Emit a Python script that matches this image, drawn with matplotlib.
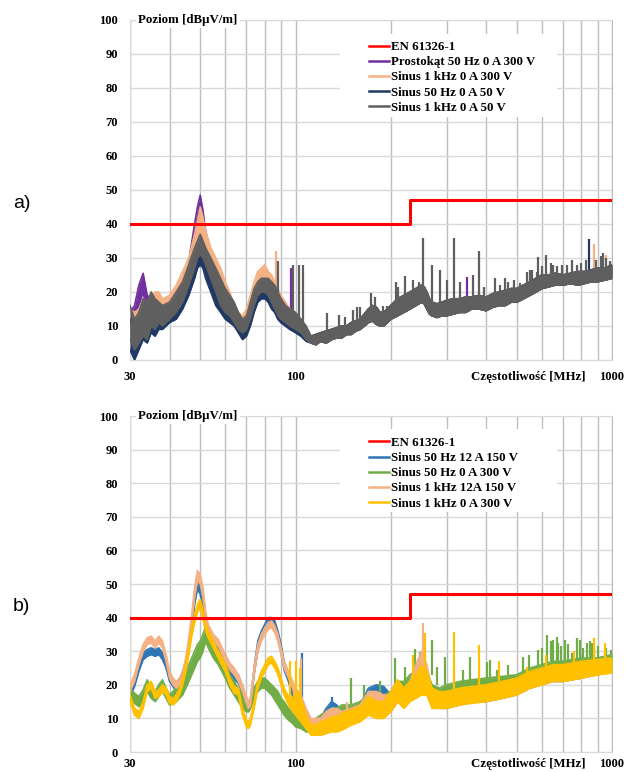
import matplotlib
matplotlib.use("Agg")
import matplotlib.pyplot as plt
from matplotlib.lines import Line2D
from matplotlib.patches import Rectangle
from matplotlib.ticker import FixedLocator, NullFormatter

plt.rcParams['font.family'] = ['Liberation Serif', 'DejaVu Serif']

# granica wg normy EN 61326-1
limit_f = [30, 230, 230, 1000]
limit_v = [40, 40, 47, 47]

# ---- a) zakres 30-108 MHz (osobno dla kazdego przebiegu) ----
a_freq_low = [30, 31, 32, 33, 34, 35, 36, 37, 38, 40, 42, 44, 46, 48, 49, 50, 51, 52, 54, 56, 58,
              60, 62, 64, 66, 68, 70, 72, 74, 76, 78, 80, 82, 84, 86, 88, 90, 93, 96, 100, 104, 108]

a_prost_lo = [6, 8, 16, 20, 14, 11, 10, 11, 10, 12, 13, 16, 22, 30, 38, 43, 38, 32, 25, 20, 16,
              14, 12, 11, 10, 9, 9, 11, 15, 18, 19, 19, 18, 16, 14, 12, 11, 10, 9, 8.5, 7.5, 6]
a_prost_hi = [14, 16, 22, 25.5, 19, 18, 17, 16, 15, 16, 18, 22, 29, 40, 45, 48.5, 44, 38, 31, 26, 22,
              20, 18, 16, 13, 12, 13, 16, 20, 22, 23, 23, 23, 22, 20, 19, 17, 15, 14, 13, 11, 9.5]

a_s1k300_lo = [9, 8, 10, 11, 10, 12, 13, 13, 12, 14, 16, 20, 25, 31, 35, 38, 36, 32, 28, 24, 20,
               17, 14, 11, 10, 10, 11, 14, 18, 21, 23, 23, 21, 19, 16, 14, 13, 11, 10, 9, 8, 6]
a_s1k300_hi = [15, 14, 15, 18, 17, 19, 20, 20, 18, 19, 22, 26, 30, 37, 41, 45, 42, 38, 33, 30, 27,
               23, 20, 16, 14, 13, 15, 19, 23, 26, 27, 28, 26, 25, 23, 21, 19, 17, 15, 14, 12, 10]

a_s50_50_lo = [3, 0, 3, 6, 5, 8, 7, 9, 9, 11, 12, 15, 19, 24, 27, 28, 27, 24, 20, 16, 14,
               12, 11, 10, 8, 6, 7, 10, 14, 17, 18, 18, 17, 15, 14, 12, 11, 10, 9, 8, 7, 5.5]
a_s50_50_hi = [12, 8, 11, 14, 13, 16, 15, 15, 14, 15, 18, 21, 25, 30, 32, 34, 32, 30, 27, 23, 20,
               18, 16, 14, 12, 10, 11, 15, 19, 21, 22, 22, 22, 21, 20, 18, 16, 14, 13, 12, 10, 8]

a_s1k50_lo = [6, 3, 5, 7, 6, 10, 9, 11, 10, 12, 14, 17, 22, 27, 30, 31, 30, 28, 24, 20, 16,
              14, 13, 11, 9, 8, 9, 12, 16, 19, 20, 20, 19, 17, 15, 13, 12, 11, 10, 9, 8, 6]
a_s1k50_hi = [16, 12, 14, 18, 17, 20, 18, 17, 16, 17, 20, 23, 28, 33, 35, 37, 35, 33, 30, 27, 24,
              21, 19, 17, 14, 12, 13, 17, 21, 23, 24, 24, 24, 23, 22, 20, 18, 16, 15, 14, 12, 10]

# a) powyzej 110 MHz przebiegi praktycznie sie pokrywaja
a_freq_hf = [112, 116, 120, 125, 130, 135, 140, 145, 150, 155,
             160, 165, 170, 175, 180, 185, 190, 195, 200, 205,
             210, 215, 220, 225, 230, 240, 250, 255, 260, 265,
             270, 280, 290, 300, 315, 330, 345, 360, 380, 400,
             420, 440, 460, 480, 500, 525, 550, 575, 600, 630,
             660, 700, 740, 780, 820, 860, 900, 950, 1000]
a_hf_lo = [5, 4.5, 5.5, 5, 6, 6.5, 6.5, 7.5, 7.5, 8.5,
           9, 10, 11, 11.5, 10.5, 10, 10, 11, 12, 12.5,
           13, 13.5, 14, 14.5, 15, 16, 17, 16.5, 15, 13.5,
           13, 12.5, 13, 13, 13.5, 14, 14, 15, 15, 14.5,
           15.5, 16, 16, 17, 17, 18, 19, 20, 21, 21.5,
           22, 22, 22.5, 22, 22.5, 23, 23, 23.5, 24]
a_hf_hi = [7, 7.5, 8, 8.5, 9, 9.5, 10, 10, 11, 11.5,
           12, 13.5, 15, 16, 15.5, 14, 14, 15, 16, 17,
           18, 18.5, 19, 19.5, 20, 21, 22, 21.5, 20, 18,
           17, 16.5, 17, 17.5, 18, 18, 18.5, 18.5, 19, 18.5,
           19.5, 20, 20.5, 21, 21, 22, 23, 24, 25, 25,
           25.5, 25, 25.5, 26, 26, 26.5, 27, 27, 28]

# a) piki waskopasmowe: czestotliwosc, podstawa, wierzcholek
a_gray_spk_f = [88, 98, 102.5, 105.5, 126, 137, 143, 152, 156, 159.5,
                173, 178, 189, 194, 207.5, 211, 222, 235, 245, 253,
                270, 285.5, 301, 316, 332, 364, 381, 395, 427, 443,
                459, 470, 490, 512, 537, 550, 560, 578, 585, 600,
                619, 640, 653, 670, 694, 720, 746, 773, 800, 830,
                890, 920, 939, 960, 985]
a_gray_spk_b = [20, 14, 12, 11, 8, 9, 9.5, 10, 10.5, 11,
                14, 15, 13, 14, 15, 17, 18, 19.5, 20.5, 21,
                17, 16, 16, 17, 17.5, 18, 18.5, 18.5, 19, 19,
                19.5, 20, 20.5, 21, 22, 22.5, 23, 24, 24, 24.5,
                25, 25, 25, 25, 25, 25, 25.5, 25.5, 25.5, 25.5,
                26.5, 26.5, 27, 27, 27.5]
a_gray_spk_t = [29, 28, 28, 28, 13.7, 13.2, 12.5, 14.7, 15.7, 15.7,
                19.6, 18.6, 16, 16, 23, 21.5, 24.7, 23.5, 23, 36,
                28, 26.5, 23.5, 36, 23, 25, 32, 21.5, 24, 22,
                24, 23, 23.5, 22.5, 26, 26.5, 26.5, 26, 30.4, 27.5,
                31, 28.5, 28, 27.5, 28, 28, 29.4, 28, 28.5, 29.5,
                29.5, 30.5, 31.4, 30, 29]
a_prost_spk_f, a_prost_spk_b, a_prost_spk_t = [97, 347], [14, 17.5], [27, 24.5]
a_s1k300_spk_f, a_s1k300_spk_b, a_s1k300_spk_t = [87, 874, 960], [22, 26, 27], [32, 34, 31]
a_s50_50_spk_f, a_s50_50_spk_b, a_s50_50_spk_t = [848], [26], [35.5]

# ---- b) ----
b_freq = [30, 31, 32, 33, 34, 35, 36, 37, 38, 39,
          40, 41, 42, 43, 44, 45, 46, 47, 48, 49,
          50, 51, 52, 53, 55, 57, 60, 62, 64, 66,
          68, 70, 71, 72, 74, 76, 78, 80, 82, 84,
          86, 88, 90, 92, 95, 98, 100, 104, 108, 112,
          116, 120, 125, 130, 135, 140, 150, 160, 170, 180,
          190, 200, 210, 220, 230, 240, 250, 260, 270, 285,
          300, 330, 360, 400, 450, 500, 550, 600, 650, 700,
          800, 900, 1000]

b_s50_12_lo = [16.5, 19.5, 24, 27.5, 28.5, 29, 28.5, 29, 27.5, 25,
               21, 19.5, 18, 19.5, 22, 25, 30, 36, 44, 48.5,
               47, 42, 36.5, 34.5, 31.5, 30, 26.5, 23.5, 21.5, 20.5,
               17.5, 13.5, 12, 13, 23, 30, 34, 36, 38, 38,
               36.5, 33.5, 29.5, 24.5, 21, 16.5, 13, 11, 8, 6,
               6, 6, 8, 11, 10, 8, 9, 10, 14, 16,
               15, 12, 15, 14, 16, 18, 22, 19, 14, 13,
               13, 14, 15, 15, 16, 17, 19, 20, 21, 21,
               22, 23, 24]
b_s50_12_hi = [18.5, 21.5, 26, 29.5, 30.5, 31, 30.5, 31, 29.5, 27,
               23, 21.5, 20, 21.5, 24, 27, 32, 38.5, 47, 51.5,
               50, 46, 39.5, 37, 34, 32.5, 29, 26, 24, 23,
               19.5, 15.5, 14, 15, 25, 33, 36, 38, 40, 40,
               39, 36, 32, 27, 23.5, 19, 17, 16, 12, 9,
               9, 10, 13, 15, 14, 12, 13, 14, 19, 20,
               19.5, 17, 21, 19, 21, 25, 29, 25, 18, 17,
               17, 18, 18, 19, 20, 21, 23, 24, 24, 25,
               25, 26, 27]

b_s50_0_lo = [15.5, 14.5, 13.5, 15, 18, 16, 15, 16.5, 18, 16,
              14, 14.5, 15, 16, 17, 19, 21, 23, 25, 27,
              28, 30, 33, 31, 28, 26, 22, 19, 17, 15,
              13, 12, 12, 13, 16, 18, 19, 19, 18, 17,
              15.5, 14, 12.5, 11, 9.5, 8.5, 7.5, 7, 6, 6,
              6, 7, 8, 9, 9, 9, 9, 10, 12, 12,
              12, 13, 15, 15, 16, 18, 18, 17, 15, 15,
              15, 16, 16, 17, 18, 19, 20, 21, 22, 22,
              23, 24, 24]
b_s50_0_hi = [19, 17.5, 16.5, 18.5, 21.5, 19, 18, 20, 21.5, 19,
              17, 18, 19, 20.5, 22, 24, 26, 28, 30, 32,
              33, 35, 37.5, 35.5, 32, 30, 27, 23, 21, 19,
              17, 15, 15, 16, 19, 21, 22, 22, 21, 20,
              19, 18, 16, 15, 13, 12, 11, 12, 10, 9,
              10, 11, 12, 13, 13, 14, 14, 15, 17, 17,
              17, 18, 21, 21, 23, 24, 25, 24, 20, 19,
              20, 21, 21.5, 22, 22.5, 23, 25, 26, 27, 27,
              28, 28, 29]

b_s1k12_lo = [18, 21, 26, 30, 32, 32.5, 31, 32.5, 31, 27,
              22, 20, 19, 20, 22, 26, 32, 38.5, 46, 51,
              50, 46, 39.5, 36, 33, 31.5, 27, 24.5, 23, 21,
              18, 14.5, 13, 14, 23, 30, 33, 35, 36.5, 37,
              35.5, 33, 29, 25, 22, 19, 15, 12, 9, 7,
              7, 7, 8, 9, 9, 8, 9, 10, 13, 14,
              13, 12, 15, 14, 16, 19, 23, 20, 14, 13,
              13, 14, 15, 15, 16, 17, 19, 20, 21, 21,
              22, 23, 24]
b_s1k12_hi = [20, 23, 28, 32, 34, 34.5, 33, 34.5, 33, 29,
              24, 22, 21, 22, 24, 28, 34, 41, 49, 54,
              53, 49, 42, 38, 35, 33.5, 29, 26.5, 25, 23,
              20, 16.5, 15, 16, 25, 32, 35, 37, 38.5, 39,
              37.5, 35, 31, 27, 24, 21, 19, 17, 13, 10,
              10, 10, 12, 13, 13, 12, 13, 14, 18, 18,
              17, 17, 21, 19, 21, 26, 30, 26, 18, 17,
              17, 18, 18, 19, 20, 21, 23, 24, 24, 25,
              25, 26, 27]

b_s1k0_lo = [15, 11, 10, 13, 18, 19, 16, 16.5, 18, 17,
             14.5, 14, 15, 17, 20, 24, 29, 34.5, 38.5, 41.5,
             43, 39.5, 36, 34, 31, 28, 24, 20, 17.5, 17,
             11, 7.5, 7, 8, 13, 19, 22, 24, 26, 26.5,
             25, 23, 20, 17, 14, 12, 11, 9, 7, 5,
             5, 5, 5.5, 6, 6, 6.5, 8, 9, 11, 10,
             10, 12, 15, 13, 15, 16, 17, 17, 13, 13,
             13, 14, 14.5, 15, 16, 17, 19, 20, 21, 21,
             22, 23, 23.5]
b_s1k0_hi = [17, 13, 12, 15, 20, 21, 18, 18.5, 20, 19,
             16.5, 16, 17, 19, 22, 26, 31, 37, 41, 44,
             45.5, 42, 38, 36, 33, 30, 26, 22, 19.5, 19,
             13, 9.5, 9, 10, 15, 21, 24, 26, 28, 28.5,
             27, 25, 22, 19, 16.5, 16, 18, 16, 11, 8,
             8, 9, 9.5, 10.5, 10.5, 11.5, 12.5, 13.5, 16.5, 15,
             15, 18, 21.5, 19, 21, 23, 25.5, 24, 19, 18,
             18, 19, 19.5, 20, 21, 22, 24, 25, 26, 26,
             27, 27.5, 28]

b_s50_12_spk_f, b_s50_12_spk_b, b_s50_12_spk_t = [105, 130, 339], [16, 14, 17], [29.5, 16.5, 21]
b_s1k12_spk_f, b_s1k12_spk_b, b_s1k12_spk_t = [104, 145, 253], [16, 12, 28], [28, 15, 38.3]
b_s1k0_spk_f = [96, 100, 103, 235, 256, 316, 381, 440, 537, 620, 760, 874, 951]
b_s1k0_spk_b = [16, 17, 15, 20, 22, 17, 18.5, 21, 22, 24.5, 26, 26, 27]
b_s1k0_spk_t = [27, 27, 25, 29, 35.3, 35.8, 31.8, 27, 25.4, 29, 30, 33.8, 32.3]
b_s50_0_spk_f = [150, 165, 185, 206, 221, 238, 247, 269, 279, 296,
                 339, 356, 402, 412, 432, 470, 525, 545, 585, 600,
                 622, 640, 653, 669, 677, 690, 710, 725, 746, 773,
                 793, 810, 832, 850, 863, 880, 900, 928, 960, 990]
b_s50_0_spk_b = [14, 15, 17, 20, 21, 23, 24, 23, 20, 20,
                 21, 21, 22, 22, 22.5, 23, 24, 25, 25.5, 26,
                 26.5, 27, 27, 27, 27, 27, 27, 27, 27.5, 27.5,
                 27.5, 28, 28, 28, 28, 28, 28, 28.5, 28.5, 29]
b_s50_0_spk_t = [22, 20, 21, 27.9, 25.4, 30.8, 29.8, 33.3, 25.4, 28.4,
                 24.4, 28.4, 26.9, 27.4, 24.4, 25.9, 28.4, 29, 30.4, 31,
                 34.8, 33, 33.3, 34.3, 32.3, 31.5, 33.3, 32, 29.4, 33.8,
                 33.3, 31, 32.3, 33, 32.3, 31, 31.5, 28.4, 31, 30.4]

RED = '#ff0000'
FS = 9.3


def trace(ax, f, lo, hi, color, z, spk_f=(), spk_b=(), spk_t=()):
    # pasmo szumu + piki; kazdy przebieg na wlasnej warstwie
    ax.fill_between(f, lo, hi, color=color, lw=0, zorder=z)
    ax.plot(f, lo, color=color, lw=1.2, zorder=z)
    ax.plot(f, hi, color=color, lw=1.2, zorder=z)
    if len(spk_f):
        ax.vlines(spk_f, spk_b, spk_t, color=color, lw=1.6, zorder=z)


def setup(ax, legend_labels, legend_colors, xpad):
    ax.set_xscale('log')
    ax.set_xlim(30, 1000)
    ax.set_ylim(0, 100)
    ax.set_axisbelow(True)
    ax.xaxis.set_major_locator(FixedLocator([30, 100, 1000]))
    ax.xaxis.set_minor_locator(FixedLocator([40, 50, 60, 70, 80, 90, 200, 300, 400, 500, 600, 700, 800, 900]))
    ax.xaxis.set_minor_formatter(NullFormatter())
    ax.set_xticklabels(['30', '100', '1000'])
    ax.set_yticks(range(0, 101, 10))
    ax.tick_params(which='both', length=0, labelsize=9)
    ax.tick_params(axis='y', pad=8.5)
    ax.tick_params(axis='x', pad=xpad)
    for lab in ax.get_xticklabels() + ax.get_yticklabels():
        lab.set_fontweight('bold')
    ax.grid(axis='y', color='#d9d9d9', lw=1)
    ax.grid(axis='x', which='both', color='#bdbdbd', lw=1)
    for s in ax.spines.values():
        s.set_color('#d9d9d9')
    ax.spines['right'].set_color('#bdbdbd')

    ax.plot(limit_f, limit_v, color=RED, lw=2.2, zorder=10)

    ax.text(0.017, 1.0, 'Poziom [dBμV/m]', transform=ax.transAxes, ha='left', va='center',
            fontsize=FS, fontweight='bold', bbox=dict(facecolor='white', edgecolor='none', pad=1.5),
            zorder=11)
    ax.annotate('Częstotliwość [MHz]', xy=(0.946, 0), xycoords='axes fraction',
                xytext=(0, -xpad), textcoords='offset points', ha='right', va='top',
                fontsize=FS, fontweight='bold')

    # biale tlo pod legenda
    ax.add_patch(Rectangle((0.436, 0.715), 0.45, 0.245, transform=ax.transAxes,
                           facecolor='white', edgecolor='none', zorder=0.8))
    handles = [Line2D([], [], color=c, lw=1.8) for c in legend_colors]
    leg = ax.legend(handles, legend_labels, loc='upper left', bbox_to_anchor=(0.482, 0.957),
                    frameon=False, handlelength=1.6, handletextpad=0.1,
                    labelspacing=0.24, borderpad=0, prop={'weight': 'bold', 'size': FS})
    leg.set_zorder(11)


fig = plt.figure(figsize=(6.36, 7.72), dpi=100)
ax_a = fig.add_axes([0.2044, 0.5337, 0.7579, 0.4404])
ax_b = fig.add_axes([0.2044, 0.0259, 0.7579, 0.4352])

# a)
trace(ax_a, a_freq_low + a_freq_hf, a_prost_lo + a_hf_lo, a_prost_hi + a_hf_hi, '#7030a0', 2,
      a_prost_spk_f, a_prost_spk_b, a_prost_spk_t)
trace(ax_a, a_freq_low + a_freq_hf, a_s1k300_lo + a_hf_lo, a_s1k300_hi + a_hf_hi, '#f4b183', 3,
      a_s1k300_spk_f, a_s1k300_spk_b, a_s1k300_spk_t)
trace(ax_a, a_freq_low + a_freq_hf, a_s50_50_lo + a_hf_lo, a_s50_50_hi + a_hf_hi, '#203864', 4,
      a_s50_50_spk_f, a_s50_50_spk_b, a_s50_50_spk_t)
trace(ax_a, a_freq_low + a_freq_hf, a_s1k50_lo + a_hf_lo, a_s1k50_hi + a_hf_hi, '#5f5f5f', 5,
      a_gray_spk_f, a_gray_spk_b, a_gray_spk_t)
setup(ax_a,
      ['EN 61326-1', 'Prostokąt 50 Hz 0 A 300 V', 'Sinus 1 kHz 0 A 300 V',
       'Sinus 50 Hz 0 A 50 V', 'Sinus 1 kHz 0 A 50 V'],
      [RED, '#7030a0', '#f4b183', '#203864', '#5f5f5f'], xpad=8)

# b)
trace(ax_b, b_freq, b_s50_12_lo, b_s50_12_hi, '#2e75b6', 2, b_s50_12_spk_f, b_s50_12_spk_b, b_s50_12_spk_t)
trace(ax_b, b_freq, b_s50_0_lo, b_s50_0_hi, '#70ad47', 3, b_s50_0_spk_f, b_s50_0_spk_b, b_s50_0_spk_t)
trace(ax_b, b_freq, b_s1k12_lo, b_s1k12_hi, '#f4b183', 4, b_s1k12_spk_f, b_s1k12_spk_b, b_s1k12_spk_t)
trace(ax_b, b_freq, b_s1k0_lo, b_s1k0_hi, '#ffc000', 5, b_s1k0_spk_f, b_s1k0_spk_b, b_s1k0_spk_t)
setup(ax_b,
      ['EN 61326-1', 'Sinus 50 Hz 12 A 150 V', 'Sinus 50 Hz 0 A 300 V',
       'Sinus 1 kHz 12A 150 V', 'Sinus 1 kHz 0 A 300 V'],
      [RED, '#2e75b6', '#70ad47', '#f4b183', '#ffc000'], xpad=4)

fig.text(0.02, 0.736, 'a)', fontsize=14, family=['Liberation Sans', 'DejaVu Sans'], va='center')
fig.text(0.02, 0.215, 'b)', fontsize=14, family=['Liberation Sans', 'DejaVu Sans'], va='center')

fig.savefig('out.png', dpi=100)
